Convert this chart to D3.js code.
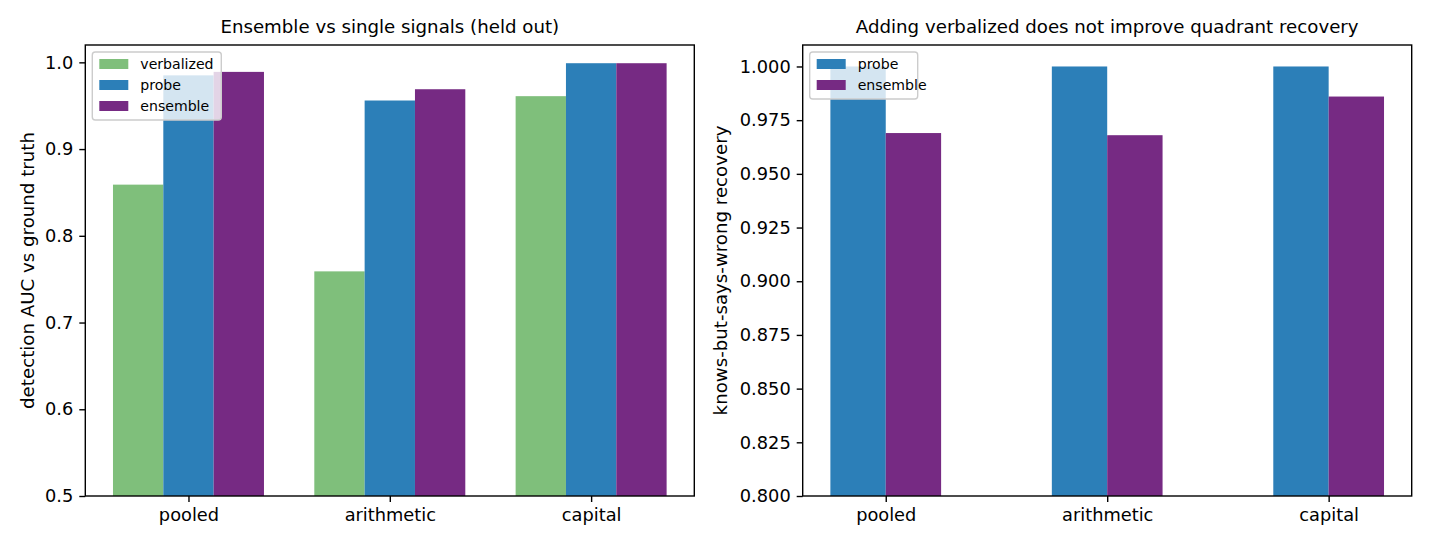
<!DOCTYPE html>
<html>
<head>
<meta charset="utf-8">
<script src="https://cdn.jsdelivr.net/npm/d3@7"></script>
<style>
  html, body { margin: 0; padding: 0; background: #fff; }
  svg { display: block; font-family: "DejaVu Sans", sans-serif; }
</style>
</head>
<body>
<svg id="chart" width="1430" height="546"></svg>
<script>
// ---- data ----
const categories = ["pooled", "arithmetic", "capital"];

const leftSeries = ["verbalized", "probe", "ensemble"];
const leftVerbalized = [0.859, 0.759, 0.961];
const leftProbe = [0.985, 0.956, 0.999];
const leftEnsemble = [0.989, 0.969, 0.999];
const leftTicks = [0.5, 0.6, 0.7, 0.8, 0.9, 1.0];

const rightSeries = ["probe", "ensemble"];
const rightProbe = [1.0, 1.0, 1.0];
const rightEnsemble = [0.969, 0.968, 0.986];
const rightTicks = [0.800, 0.825, 0.850, 0.875, 0.900, 0.925, 0.950, 0.975, 1.000];

const colors = { verbalized: "#7fbf7b", probe: "#2c7fb8", ensemble: "#762a83" };

const svg = d3.select("#chart");
const FS = 17.8;     // tick font size
const TFS = 18.2;    // title / axis label font size
const LFS = 14.1;    // legend font size

function panel(opts) {
  const { x0, x1, y0, y1, xDomain, yDomain, yTicks, yFmt, series, values, title, ylabel, ylabelX, barW, legendW } = opts;
  const g = svg.append("g");
  const x = d3.scaleLinear().domain(xDomain).range([x0, x1]);
  const y = d3.scaleLinear().domain(yDomain).range([y1, y0]);
  const n = series.length;

  // bars
  series.forEach((s, j) => {
    const off = (j - (n - 1) / 2) * barW;
    g.append("g").selectAll("rect").data(values[j]).enter().append("rect")
      .attr("x", (d, i) => x(i + off - barW / 2))
      .attr("width", (d, i) => x(i + off + barW / 2) - x(i + off - barW / 2))
      .attr("y", d => y(d))
      .attr("height", d => y(yDomain[0]) - y(d))
      .attr("fill", colors[s]);
  });

  // axes
  const xAxis = d3.axisBottom(x).tickValues(d3.range(categories.length))
    .tickFormat(i => categories[i]).tickSize(6).tickPadding(6);
  const yAxis = d3.axisLeft(y).tickValues(yTicks).tickFormat(yFmt).tickSize(6).tickPadding(6);

  const gx = g.append("g").attr("transform", `translate(0,${y1})`).call(xAxis);
  const gy = g.append("g").attr("transform", `translate(${x0},0)`).call(yAxis);
  [gx, gy].forEach(a => {
    a.select(".domain").remove();
    a.selectAll("line").attr("stroke", "#000").attr("stroke-width", 1.4);
    a.selectAll("text").attr("font-size", FS).attr("fill", "#000")
      .attr("font-family", "DejaVu Sans, sans-serif");
  });

  // frame
  g.append("rect").attr("x", x0).attr("y", y0).attr("width", x1 - x0).attr("height", y1 - y0)
    .attr("fill", "none").attr("stroke", "#000").attr("stroke-width", 1.4);

  // title
  g.append("text").attr("x", (x0 + x1) / 2).attr("y", 33).attr("text-anchor", "middle")
    .attr("font-size", TFS).text(title);

  // ylabel
  g.append("text").attr("transform", `translate(${ylabelX},${(y0 + y1) / 2}) rotate(-90)`)
    .attr("text-anchor", "middle").attr("font-size", TFS).text(ylabel);

  // legend
  const lx = x0 + 7, ly = y0 + 7;
  const lh = 26 + (series.length - 1) * 21;
  const lg = g.append("g");
  lg.append("rect").attr("x", lx).attr("y", ly).attr("width", legendW).attr("height", lh)
    .attr("rx", 3).attr("fill", "#fff").attr("fill-opacity", 0.8)
    .attr("stroke", "#cccccc").attr("stroke-width", 1.4);
  series.forEach((s, j) => {
    const cy = ly + 12 + j * 21;
    lg.append("rect").attr("x", lx + 7).attr("y", cy - 5).attr("width", 29).attr("height", 10)
      .attr("fill", colors[s]);
    lg.append("text").attr("x", lx + 48).attr("y", cy + 5).attr("font-size", LFS).text(s);
  });
}

panel({
  x0: 85.3, x1: 694.3, y0: 45, y1: 496,
  xDomain: [-0.5125, 2.5125], yDomain: [0.5, 1.02],
  yTicks: leftTicks, yFmt: d3.format(".1f"),
  series: leftSeries, values: [leftVerbalized, leftProbe, leftEnsemble],
  title: "Ensemble vs single signals (held out)",
  ylabel: "detection AUC vs ground truth", ylabelX: 34,
  barW: 0.25, legendW: 129
});

panel({
  x0: 802.7, x1: 1411.7, y0: 45, y1: 496,
  xDomain: [-0.375, 2.375], yDomain: [0.8, 1.01],
  yTicks: rightTicks, yFmt: d3.format(".3f"),
  series: rightSeries, values: [rightProbe, rightEnsemble],
  title: "Adding verbalized does not improve quadrant recovery",
  ylabel: "knows-but-says-wrong recovery", ylabelX: 727,
  barW: 0.25, legendW: 108
});
</script>
</body>
</html>
